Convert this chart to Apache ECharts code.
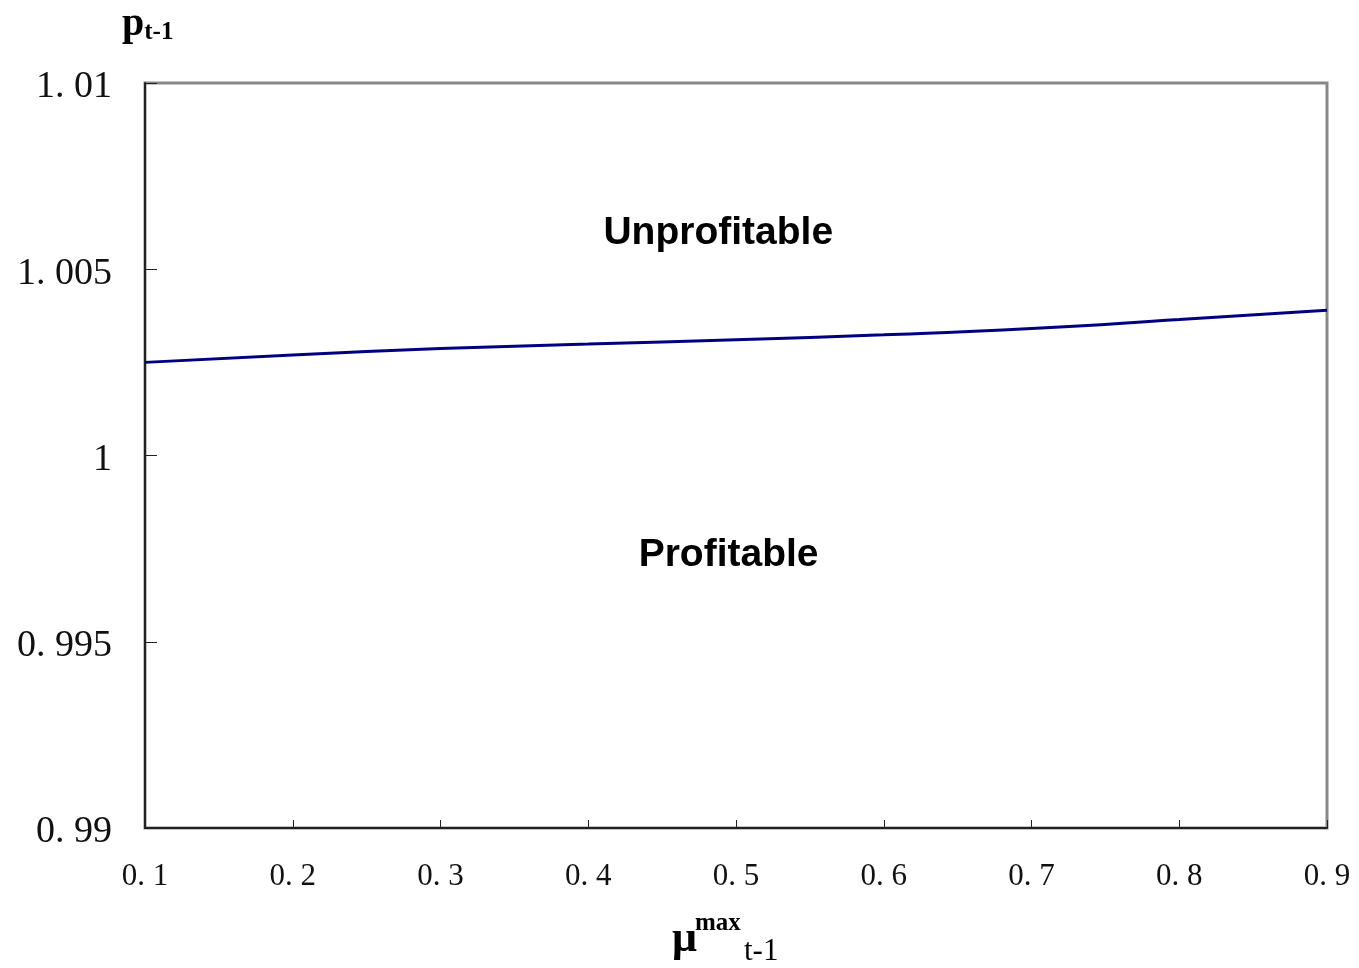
<!DOCTYPE html>
<html>
<head>
<meta charset="utf-8">
<script src="https://cdn.jsdelivr.net/npm/echarts@6/dist/echarts.min.js"></script>
<style>
  html, body { margin: 0; padding: 0; background: #fff; }
  #chart { width: 1359px; height: 968px; }
</style>
</head>
<body>
<div id="chart"></div>
<script>
// Maximum membership ratio mu(max, t-1)
const muValues = [0.1, 0.2, 0.3, 0.4, 0.5, 0.6, 0.7, 0.8, 0.9];
// Break-even price p(t-1) separating the two regions
const breakEven = [1.00250, 1.00270, 1.00287, 1.00299, 1.00311, 1.00324, 1.00341, 1.00365, 1.00390];
// Region labels and where they sit in data space [mu, p]
const regionNames = ['Unprofitable', 'Profitable'];
const regionAt = [[0.488, 1.00597], [0.495, 0.99733]];

const serif = '"Liberation Serif", "DejaVu Serif", serif';
const sans = '"Liberation Sans", Arial, sans-serif';

function spacedDot(s) { return s.replace('.', '. '); }

const chart = echarts.init(document.getElementById('chart'));
chart.setOption({
  animation: false,
  backgroundColor: '#fff',
  grid: {
    left: 145, right: 32, top: 83, bottom: 140,
    show: true, borderColor: '#888', borderWidth: 3, backgroundColor: 'transparent'
  },
  xAxis: {
    type: 'value', min: 0.1, max: 0.9, interval: 0.1,
    axisLine: { show: true, onZero: false, lineStyle: { color: '#222', width: 2 } },
    axisTick: { show: true, inside: true, length: 8, lineStyle: { color: '#222', width: 1 } },
    splitLine: { show: false },
    axisLabel: {
      color: '#111', fontFamily: serif, fontSize: 31, margin: 33,
      formatter: v => spacedDot(v.toFixed(1))
    }
  },
  yAxis: {
    type: 'value', min: 0.99, max: 1.01, interval: 0.005,
    axisLine: { show: true, onZero: false, lineStyle: { color: '#222', width: 2 } },
    axisTick: { show: true, inside: true, length: 12, lineStyle: { color: '#222', width: 1 } },
    splitLine: { show: false },
    axisLabel: {
      margin: 33,
      formatter: v => '{v|' + spacedDot(String(Number(v.toFixed(3)))) + '}',
      rich: {
        v: { color: '#111', fontFamily: serif, fontSize: 38, padding: [9, 0, 0, 0] }
      }
    }
  },
  series: [{
    type: 'line',
    data: muValues.map((m, i) => [m, breakEven[i]]),
    smooth: 0.5,
    symbol: 'none',
    lineStyle: { color: '#000080', width: 3 },
    markPoint: {
      symbol: 'circle', symbolSize: 0, silent: true,
      label: {
        show: true, position: 'inside', color: '#000',
        fontFamily: sans, fontWeight: 'bold', fontSize: 39,
        formatter: p => p.name
      },
      data: regionNames.map((n, i) => ({ name: n, coord: regionAt[i] }))
    }
  }],
  graphic: [
    {
      type: 'text', left: 122, top: 5,
      style: {
        text: '{p|p}{s|t-1}',
        rich: {
          p: { fontFamily: serif, fontWeight: 'bold', fontSize: 40, fill: '#000', verticalAlign: 'bottom' },
          s: { fontFamily: serif, fontWeight: 'bold', fontSize: 25, fill: '#000', verticalAlign: 'bottom' }
        }
      }
    },
    {
      type: 'text', left: 672, top: 918,
      style: { text: 'μ', fontFamily: serif, fontWeight: 'bold', fontSize: 44, fill: '#000' }
    },
    {
      type: 'text', left: 695, top: 911,
      style: { text: 'max', fontFamily: serif, fontWeight: 'bold', fontSize: 25, fill: '#000' }
    },
    {
      type: 'text', left: 744, top: 936,
      style: { text: 't-1', fontFamily: serif, fontSize: 31, fill: '#000' }
    }
  ]
});
</script>
</body>
</html>
